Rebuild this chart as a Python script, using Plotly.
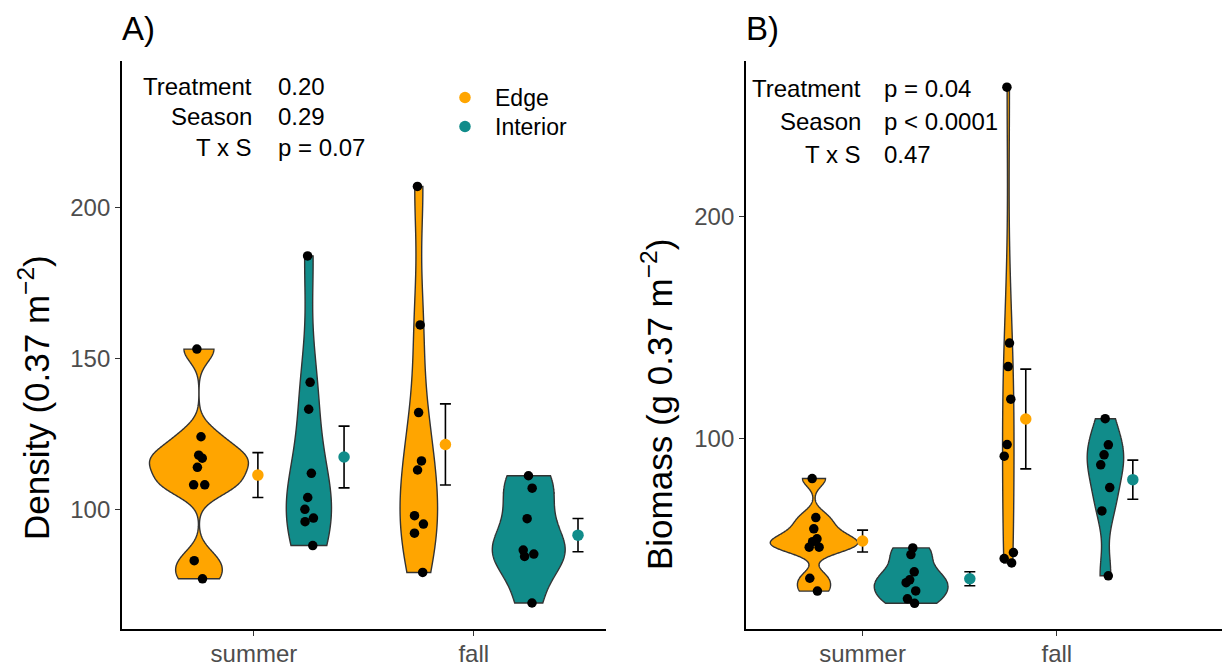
import numpy as np
import plotly.graph_objects as go

# ---------------- data ----------------
seasons = ["summer", "fall"]
treatments = ["Edge", "Interior"]

# Panel A: Density (0.37 m^-2)
density_edge_summer = [153.2, 124.2, 117.1, 118.1, 114.1, 108.3, 108.3, 83.2, 77.2]
density_interior_summer = [184.0, 142.2, 133.3, 112.1, 104.1, 100.2, 97.3, 96.1, 88.2]
density_edge_fall = [207.0, 161.2, 132.2, 116.2, 113.2, 98.1, 95.3, 92.3, 79.3]
density_interior_fall = [111.3, 107.2, 97.1, 86.7, 85.4, 84.6, 69.2]

# Panel B: Biomass (g 0.37 m^-2)
biomass_edge_summer = [81.8, 64.2, 59.1, 54.6, 53.3, 50.8, 50.8, 36.8, 31.0]
biomass_interior_summer = [50.5, 47.5, 39.7, 36.1, 34.8, 31.1, 27.5, 25.5]
biomass_edge_fall = [258.4, 142.9, 132.3, 117.6, 97.1, 91.9, 48.4, 45.7, 43.7]
biomass_interior_fall = [108.8, 97.0, 92.5, 88.0, 77.7, 67.2, 37.9]

stat_labels = ["Treatment", "Season", "T x S"]
density_pvalues = ["0.20", "0.29", "p = 0.07"]
biomass_pvalues = ["p = 0.04", "p < 0.0001", "0.47"]

# ---------------- styling ----------------
FONT = "Liberation Sans, Arial, Helvetica, sans-serif"
COLORS = {"Edge": "#FFA500", "Interior": "#118C8A"}
W, H = 1225, 668
VIOLIN_WIDTH = 0.45


def bw_nrd0(x):
    x = np.asarray(x, dtype=float)
    hi = np.std(x, ddof=1)
    q75, q25 = np.percentile(x, [75, 25])
    lo = min(hi, (q75 - q25) / 1.34)
    if lo == 0:
        lo = hi if hi else 1.0
    return 0.9 * lo * len(x) ** -0.2


def kde(x, n=512):
    """Gaussian KDE (bw.nrd0), trimmed to the data range like ggplot's violin."""
    x = np.asarray(x, dtype=float)
    bw = bw_nrd0(x)
    grid = np.linspace(x.min(), x.max(), n)
    z = (grid[:, None] - x[None, :]) / bw
    dens = np.exp(-0.5 * z ** 2).sum(axis=1) / (len(x) * bw * np.sqrt(2 * np.pi))
    return grid, dens


panels = [
    dict(
        name="A", xa="x", ya="y",
        groups={
            ("Edge", "summer"): density_edge_summer,
            ("Interior", "summer"): density_interior_summer,
            ("Edge", "fall"): density_edge_fall,
            ("Interior", "fall"): density_interior_fall,
        },
        mean_off={("Edge", "summer"): 0.018, ("Interior", "summer"): 0.41,
                  ("Edge", "fall"): -0.129, ("Interior", "fall"): 0.474},
        pvals=density_pvalues, label_y=[240, 230, 220],
    ),
    dict(
        name="B", xa="x2", ya="y2",
        groups={
            ("Edge", "summer"): biomass_edge_summer,
            ("Interior", "summer"): biomass_interior_summer,
            ("Edge", "fall"): biomass_edge_fall,
            ("Interior", "fall"): biomass_interior_fall,
        },
        mean_off={("Edge", "summer"): 0.0, ("Interior", "summer"): 0.552,
                  ("Edge", "fall"): -0.16, ("Interior", "fall"): 0.391},
        pvals=biomass_pvalues, label_y=[258, 243, 228],
    ),
]

violin_off = {"Edge": -0.25, "Interior": 0.25}

fig = go.Figure()
shapes = []

# violins as data-referenced shapes (below traces); ggplot scale="area":
# every density is scaled by the panel's maximum density
for p in panels:
    kdes = {k: kde(v) for k, v in p["groups"].items()}
    panel_max = max(d.max() for _, d in kdes.values())
    for (trt, sea), (grid, dens) in kdes.items():
        pos = seasons.index(sea) + 1 + violin_off[trt]
        half = VIOLIN_WIDTH / 2 * dens / panel_max
        xs = np.concatenate([pos + half, (pos - half)[::-1]])
        ys = np.concatenate([grid, grid[::-1]])
        path = "M " + " L ".join(f"{a:.5f},{b:.4f}" for a, b in zip(xs, ys)) + " Z"
        shapes.append(dict(type="path", path=path, xref=p["xa"], yref=p["ya"],
                           fillcolor=COLORS[trt], line=dict(color="#333333", width=1.4),
                           layer="below"))

# jittered raw points
for p in panels:
    for (trt, sea), vals in p["groups"].items():
        pos = seasons.index(sea) + 1 + violin_off[trt]
        fig.add_trace(go.Box(
            x0=pos, y=vals, xaxis=p["xa"], yaxis=p["ya"],
            boxpoints="all", jitter=0.85, pointpos=0, width=0.08,
            fillcolor="rgba(0,0,0,0)",
            line=dict(color="rgba(0,0,0,0)", width=0),
            whiskerwidth=0,
            marker=dict(color="black", size=9.5, line=dict(width=0)),
            showlegend=False, hoverinfo="skip",
        ))

# mean +/- SE
for p in panels:
    for trt in treatments:
        xs, ys, ses = [], [], []
        for sea in seasons:
            vals = np.asarray(p["groups"][(trt, sea)], dtype=float)
            xs.append(seasons.index(sea) + 1 + p["mean_off"][(trt, sea)])
            ys.append(vals.mean())
            ses.append(vals.std(ddof=1) / np.sqrt(len(vals)))
        fig.add_trace(go.Scatter(
            x=xs, y=ys, xaxis=p["xa"], yaxis=p["ya"], mode="markers",
            marker=dict(color=COLORS[trt], size=11.5),
            error_y=dict(type="data", array=ses, color="black",
                         thickness=1.6, width=5.5),
            name=trt, showlegend=(p["name"] == "A"),
            legend="legend" if trt == "Edge" else "legend2",
            hoverinfo="skip",
        ))

# ---------------- axes ----------------
ydom = [1 - 629 / H, 1 - 61 / H]
common = dict(showline=True, linecolor="black", linewidth=1.8,
              ticks="outside", ticklen=5, tickwidth=1.3, tickcolor="#333333",
              tickfont=dict(size=24, color="#4D4D4D", family=FONT),
              showgrid=False, zeroline=False, fixedrange=True, automargin=False)
xextra = dict(ticklabelstandoff=-3)

fig.update_layout(
    xaxis=dict(domain=[122 / W, 605.7 / W], range=[0.4, 2.6], anchor="y",
               tickvals=[1, 2], ticktext=seasons, **common, **xextra),
    yaxis=dict(domain=ydom, range=[60.6, 248.5], anchor="x",
               tickvals=[100, 150, 200], **common),
    xaxis2=dict(domain=[746 / W, 1222 / W], range=[0.4, 2.85], anchor="y2",
                tickvals=[1, 2], ticktext=seasons, **common, **xextra),
    yaxis2=dict(domain=ydom, range=[13.9, 270.2], anchor="x2",
                tickvals=[100, 200], **common),
)

annotations = []
# panel tags
for tag, xpx in (("A)", 120), ("B)", 744)):
    annotations.append(dict(text=tag, xref="paper", yref="paper", x=xpx / W, y=1 - 29 / H,
                            xanchor="left", yanchor="middle", showarrow=False,
                            font=dict(size=33, color="black", family=FONT)))
# y titles
annotations.append(dict(text="Density (0.37 m<sup>−2</sup>)", xref="paper", yref="paper",
                        x=34 / W, y=1 - 398 / H, textangle=-90,
                        xanchor="center", yanchor="middle", showarrow=False,
                        font=dict(size=35, color="black", family=FONT)))
annotations.append(dict(text="Biomass (g 0.37 m<sup>−2</sup>)", xref="paper", yref="paper",
                        x=657 / W, y=1 - 405 / H, textangle=-90,
                        xanchor="center", yanchor="middle", showarrow=False,
                        font=dict(size=35, color="black", family=FONT)))
# statistics text
for p in panels:
    for lab, pv, yy in zip(stat_labels, p["pvals"], p["label_y"]):
        annotations.append(dict(text=lab, xref=p["xa"], yref=p["ya"], x=1.0, y=yy,
                                xanchor="right", yanchor="middle", showarrow=False,
                                font=dict(size=24, color="black", family=FONT)))
        annotations.append(dict(text=pv, xref=p["xa"], yref=p["ya"], x=1.1, y=yy,
                                xanchor="left", yanchor="middle", showarrow=False,
                                font=dict(size=24, color="black", family=FONT)))

legend_style = dict(xanchor="left", yanchor="top", bgcolor="rgba(0,0,0,0)",
                    borderwidth=0, itemwidth=50,
                    font=dict(size=23, color="black", family=FONT))

fig.update_layout(
    width=W, height=H,
    margin=dict(l=0, r=0, t=0, b=0, pad=0),
    paper_bgcolor="white", plot_bgcolor="white",
    font=dict(family=FONT, size=24, color="black"),
    boxmode="overlay",
    shapes=shapes,
    annotations=annotations,
    legend=dict(x=435 / W, y=1 - 76 / H, **legend_style),
    legend2=dict(x=435 / W, y=1 - 105 / H, **legend_style),
    showlegend=True,
)

fig.write_html("out.html", config={"displayModeBar": False},
               post_script="document.body.style.margin='0';")
